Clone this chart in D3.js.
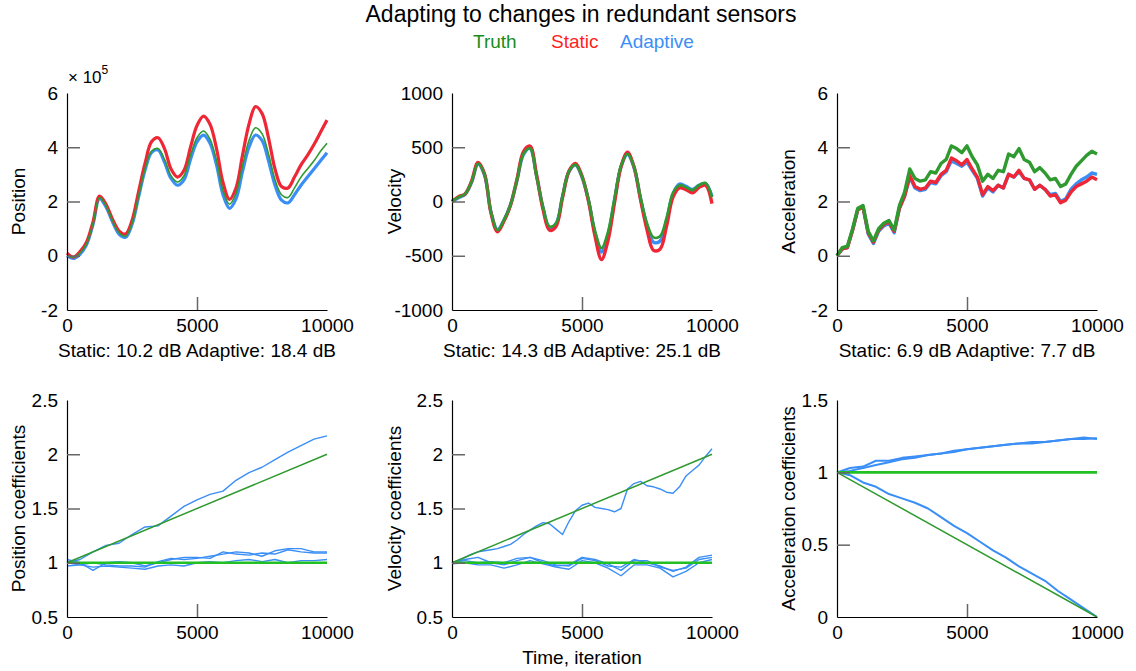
<!DOCTYPE html>
<html>
<head>
<meta charset="utf-8">
<script src="https://cdn.jsdelivr.net/npm/d3@7"></script>
<style>
  body { margin: 0; background: #fff; }
  svg { font-family: "Liberation Sans", Arial, sans-serif; }
</style>
</head>
<body>
<script>
// sampling grids (iteration numbers)
const it200 = d3.range(0, 10001, 200);
const it250 = d3.range(0, 10001, 250);
const it500 = d3.range(0, 10001, 500);

// top row: state estimates
const posTruth = [0.0, -0.05, 0.1, 0.45, 1.2, 2.15, 1.85, 1.3, 0.85, 0.72, 1.2, 2.2, 3.2, 3.85, 3.95, 3.55, 2.95, 2.72, 2.95, 3.7, 4.35,
  4.6, 4.3, 3.5, 2.4, 1.9, 2.3, 3.3, 4.25, 4.72, 4.5, 3.75, 2.8, 2.25, 2.15, 2.5, 2.9, 3.2, 3.5, 3.85, 4.15];
const posStatic = [0.1, -0.05, 0.15, 0.5, 1.25, 2.2, 1.9, 1.35, 0.92, 0.8, 1.3, 2.35, 3.4, 4.2, 4.35, 3.95, 3.2, 2.9, 3.15, 4.0, 4.8,
  5.15, 4.85, 3.95, 2.7, 2.08, 2.5, 3.7, 4.85, 5.5, 5.25, 4.35, 3.2, 2.55, 2.5, 2.9, 3.35, 3.7, 4.1, 4.55, 5.0];
const posAdaptive = [0.0, -0.1, 0.05, 0.4, 1.15, 2.1, 1.8, 1.25, 0.8, 0.68, 1.15, 2.15, 3.15, 3.8, 3.9, 3.45, 2.85, 2.6, 2.8, 3.55, 4.2,
  4.45, 4.15, 3.35, 2.25, 1.75, 2.1, 3.1, 4.0, 4.45, 4.25, 3.5, 2.6, 2.05, 1.95, 2.25, 2.6, 2.9, 3.2, 3.5, 3.8];

const velTruth = [0, 40, 70, 180, 350, 250, -100, -265, -170, -30, 200, 440, 490, 230, -50, -230, -200, 50, 280, 340, 230,
  20, -270, -430, -280, 30, 330, 440, 320, 40, -200, -330, -320, -150, 80, 150, 130, 105, 150, 170, 40];
const velStatic = [0, 45, 70, 185, 360, 255, -105, -280, -180, -35, 205, 460, 510, 245, -70, -265, -230, 35, 280, 350, 235,
  5, -320, -535, -360, -10, 320, 455, 320, 20, -260, -450, -440, -230, 40, 125, 110, 80, 130, 150, -20];
const velAdaptive = [0, 35, 65, 175, 345, 245, -100, -260, -170, -30, 195, 435, 490, 240, -55, -240, -205, 45, 275, 335, 225,
  10, -290, -465, -310, 10, 320, 435, 315, 30, -225, -375, -365, -180, 70, 160, 140, 110, 150, 165, 45];

const accTruth = [0.0, 0.3, 0.35, 1.0, 1.75, 1.85, 0.9, 0.55, 1.0, 1.2, 1.3, 0.95, 1.85, 2.35, 3.2, 2.85, 2.75, 2.8, 3.1, 3.05,
  3.4, 3.55, 4.05, 3.95, 3.8, 4.05, 3.65, 3.35, 2.75, 3.0, 2.85, 3.15, 3.1, 3.75, 3.65, 3.95, 3.55, 3.45, 3.1, 3.25,
  3.05, 2.8, 2.85, 2.55, 2.65, 3.0, 3.3, 3.5, 3.7, 3.85, 3.75];
const accStatic = [0.0, 0.25, 0.3, 0.95, 1.7, 1.8, 0.85, 0.5, 0.95, 1.15, 1.25, 0.9, 1.75, 2.2, 2.95, 2.55, 2.45, 2.5, 2.75, 2.7,
  3.0, 3.15, 3.6, 3.5, 3.35, 3.55, 3.2, 2.9, 2.25, 2.55, 2.4, 2.6, 2.5, 3.0, 2.9, 3.15, 2.85, 2.8, 2.45, 2.6,
  2.45, 2.2, 2.25, 1.95, 2.05, 2.35, 2.55, 2.65, 2.75, 2.9, 2.8];
const accAdaptive = [0.0, 0.25, 0.3, 0.95, 1.7, 1.8, 0.8, 0.45, 0.9, 1.1, 1.2, 0.85, 1.75, 2.2, 2.9, 2.5, 2.4, 2.45, 2.7, 2.65,
  2.95, 3.1, 3.5, 3.4, 3.3, 3.45, 3.15, 2.85, 2.2, 2.5, 2.35, 2.6, 2.5, 3.0, 2.9, 3.1, 2.85, 2.8, 2.45, 2.6,
  2.45, 2.25, 2.3, 2.0, 2.1, 2.45, 2.65, 2.8, 2.9, 3.05, 3.0];

// bottom row: sensor coefficients (truth lines are start/end values)
const posCoefTruth = [[1, 2], [1, 1]];
const posCoefUpper = [1.0, 1.03, 1.1, 1.16, 1.18, 1.26, 1.33, 1.34, 1.43, 1.52, 1.58, 1.63, 1.66, 1.76, 1.83, 1.88, 1.95, 2.02, 2.08, 2.14, 2.17];
const posCoefLower = [
  [1.03, 1.0, 0.93, 1.0, 1.01, 1.0, 0.97, 1.0, 1.03, 1.05, 1.05, 1.04, 1.1, 1.08, 1.07, 1.09, 1.08, 1.12, 1.1, 1.09, 1.09],
  [0.97, 0.98, 1.0, 0.98, 0.97, 0.97, 0.96, 1.01, 1.04, 1.03, 1.04, 1.06, 1.08, 1.1, 1.09, 1.06, 1.11, 1.13, 1.13, 1.1, 1.1],
  [1.0, 0.98, 0.96, 0.97, 0.96, 0.95, 0.94, 0.97, 0.98, 0.97, 1.0, 1.01, 1.0, 1.02, 1.03, 1.01, 1.03, 1.0, 1.02, 1.02, 1.03]
];

const velCoefTruth = [[1, 2], [1, 1]];
const velCoefUpper = [1.0, 1.02, 1.05, 1.08, 1.1, 1.11, 1.12, 1.13, 1.15, 1.17, 1.21, 1.26, 1.3, 1.34, 1.37, 1.36, 1.31, 1.26, 1.38, 1.48, 1.53,
  1.55, 1.51, 1.5, 1.49, 1.47, 1.5, 1.68, 1.73, 1.75, 1.71, 1.7, 1.68, 1.65, 1.64, 1.7, 1.8, 1.85, 1.9, 1.98, 2.05];
const velCoefLower = [
  [1.0, 1.03, 1.05, 1.0, 0.98, 1.02, 1.05, 1.02, 0.98, 0.97, 1.04, 1.02, 0.97, 0.96, 1.03, 1.0, 0.97, 0.92, 0.96, 1.05, 1.07],
  [0.99, 1.0, 0.98, 0.98, 0.95, 0.98, 1.02, 0.99, 0.96, 0.94, 1.02, 1.0, 0.95, 0.88, 0.98, 0.98, 0.95, 0.87, 0.92, 1.0, 1.03],
  [1.0, 1.02, 1.0, 1.01, 1.0, 1.04, 1.05, 1.0, 0.97, 0.98, 1.05, 1.03, 0.99, 0.93, 1.02, 1.02, 0.96, 0.93, 0.95, 1.03, 1.05]
];

const accCoefTruth = [[1, 0], [1, 1]];
const accCoefAdaptive = [
  [1.0, 1.03, 1.04, 1.08, 1.08, 1.1, 1.11, 1.12, 1.13, 1.15, 1.16, 1.17, 1.18, 1.19, 1.2, 1.21, 1.21, 1.22, 1.23, 1.23, 1.235],
  [1.0, 1.01, 1.03, 1.05, 1.07, 1.09, 1.1, 1.12, 1.13, 1.14, 1.16, 1.17, 1.18, 1.19, 1.2, 1.2, 1.21, 1.22, 1.23, 1.24, 1.23],
  [1.0, 0.98, 0.93, 0.9, 0.85, 0.82, 0.79, 0.75, 0.69, 0.63, 0.58, 0.52, 0.46, 0.41, 0.35, 0.3, 0.25, 0.18, 0.12, 0.06, 0.0]
];

const xTicks = [0, 5000, 10000];

const RED = "#ee2636", BLUE = "#3a8ef6", GREEN = "#2f9a2f", GREEN_FLAT = "#22c022";

const width = 1136, height = 671;
const svg = d3.select("body").append("svg")
    .attr("width", width)
    .attr("height", height);

// title and legend
svg.append("text").attr("x", 581).attr("y", 22).attr("text-anchor", "middle")
    .style("font-size", "23px").text("Adapting to changes in redundant sensors");
[["Truth", 473, "#1a8c1a"], ["Static", 551, "#ff1f1f"], ["Adaptive", 620, BLUE]].forEach(([t, x, c]) => {
  svg.append("text").attr("x", x).attr("y", 48).style("font-size", "19px").style("fill", c).text(t);
});

const cols = [[67, 327], [452, 712], [837, 1097]];
const rows = [[93, 310], [400, 617]];
const labelX = [25, 401, 795];
const fmt = d => String(d);

function panel(col, row, yDomain, yTicks, ylabel, series) {
  const x = d3.scaleLinear().domain([0, 10000]).range(cols[col]);
  const y = d3.scaleLinear().domain(yDomain).range([rows[row][1], rows[row][0]]);
  const g = svg.append("g");

  series.forEach(s => {
    const line = d3.line()
        .x((d, i) => x(s.t[i]))
        .y(d => y(d))
        .curve(s.curve || d3.curveLinear);
    g.append("path")
        .datum(s.v)
        .attr("d", line)
        .attr("fill", "none")
        .attr("stroke", s.color)
        .attr("stroke-width", s.w)
        .attr("stroke-linejoin", "round");
  });

  const yAxis = g.append("g")
      .attr("transform", "translate(" + cols[col][0] + ",0)")
      .call(d3.axisLeft(y).tickValues(yTicks).tickFormat(fmt).tickSizeInner(-13).tickSizeOuter(0).tickPadding(9));
  const xAxis = g.append("g")
      .attr("transform", "translate(0," + rows[row][1] + ")")
      .call(d3.axisBottom(x).tickValues(xTicks).tickFormat(fmt).tickSizeInner(-13).tickSizeOuter(0).tickPadding(9));

  [yAxis, xAxis].forEach(a => {
    a.select(".domain").attr("stroke", "#000").attr("stroke-width", 1.2);
    a.selectAll(".tick line").attr("stroke", "#666").attr("stroke-width", 1.5);
    a.selectAll(".tick text").style("font-size", "19px").style("font-family", '"Liberation Sans", Arial, sans-serif').attr("fill", "#000");
  });
  // no tick marks at the axis limits
  yAxis.selectAll(".tick line").filter(d => d === yDomain[0] || d === yDomain[1]).remove();
  xAxis.selectAll(".tick line").filter(d => d === 0 || d === 10000).remove();

  const cy = (rows[row][0] + rows[row][1]) / 2;
  g.append("text")
      .attr("transform", "translate(" + labelX[col] + "," + cy + ") rotate(-90)")
      .attr("text-anchor", "middle")
      .style("font-size", "19px")
      .text(ylabel);
  return { x, y, g };
}

const smooth = d3.curveCatmullRom;

// top row
panel(0, 0, [-2, 6], [-2, 0, 2, 4, 6], "Position", [
  { t: it250, v: posAdaptive, color: BLUE, w: 3.2, curve: smooth },
  { t: it250, v: posStatic, color: RED, w: 3.2, curve: smooth },
  { t: it250, v: posTruth, color: GREEN, w: 1.6, curve: smooth }
]);
panel(1, 0, [-1000, 1000], [-1000, -500, 0, 500, 1000], "Velocity", [
  { t: it250, v: velAdaptive, color: BLUE, w: 3.4, curve: smooth },
  { t: it250, v: velStatic, color: RED, w: 3.4, curve: smooth },
  { t: it250, v: velTruth, color: GREEN, w: 2.6, curve: smooth }
]);
panel(2, 0, [-2, 6], [-2, 0, 2, 4, 6], "Acceleration", [
  { t: it200, v: accAdaptive, color: BLUE, w: 3.4 },
  { t: it200, v: accStatic, color: RED, w: 3.4 },
  { t: it200, v: accTruth, color: GREEN, w: 3.4 }
]);

// x 10^5 multiplier
const mult = svg.append("text").attr("x", 68).attr("y", 83).style("font-size", "17px");
mult.append("tspan").text("\u00d7 10");
mult.append("tspan").attr("dy", -9).style("font-size", "12px").text("5");

// SNR notes under top row
const notes = ["Static: 10.2 dB Adaptive: 18.4 dB", "Static: 14.3 dB Adaptive: 25.1 dB", "Static: 6.9 dB Adaptive: 7.7 dB"];
notes.forEach((n, i) => {
  svg.append("text").attr("x", (cols[i][0] + cols[i][1]) / 2).attr("y", 357)
      .attr("text-anchor", "middle").style("font-size", "19px").text(n);
});

// bottom row
const ends = [0, 10000];
function coefSeries(truth, adaptive, w) {
  const out = adaptive.map(a => ({ t: a.length === 41 ? it250 : it500, v: a, color: BLUE, w: w }));
  out.push({ t: ends, v: truth[1], color: GREEN_FLAT, w: 2.6 });
  out.push({ t: ends, v: truth[0], color: GREEN, w: 1.5 });
  return out;
}
panel(0, 1, [0.5, 2.5], [0.5, 1, 1.5, 2, 2.5], "Position coefficients",
  coefSeries(posCoefTruth, [posCoefUpper].concat(posCoefLower), 1.4));
panel(1, 1, [0.5, 2.5], [0.5, 1, 1.5, 2, 2.5], "Velocity coefficients",
  coefSeries(velCoefTruth, [velCoefUpper].concat(velCoefLower), 1.4));
panel(2, 1, [0, 1.5], [0, 0.5, 1, 1.5], "Acceleration coefficients",
  coefSeries(accCoefTruth, accCoefAdaptive, 2));

svg.append("text").attr("x", 582).attr("y", 664).attr("text-anchor", "middle")
    .style("font-size", "19px").text("Time, iteration");
</script>
</body>
</html>
